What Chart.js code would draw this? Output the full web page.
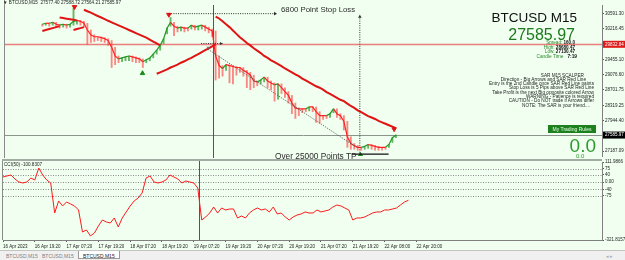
<!DOCTYPE html>
<html>
<head>
<meta charset="utf-8">
<title>BTCUSD M15</title>
<script src="https://cdn.jsdelivr.net/npm/chart.js@4.4.1/dist/chart.umd.min.js"></script>
<style>
  html, body { margin: 0; padding: 0; }
  body { width: 625px; height: 260px; overflow: hidden; position: relative; background: #f0fff0; font-family: "Liberation Sans", Arial, sans-serif; }
  .pane { position: absolute; left: 0; width: 625px; }
  #mainPane { top: 0; height: 161px; }
  #cciPane { top: 155px; height: 95px; }
  .sep { position: absolute; left: 2px; top: 159px; width: 600px; height: 2px; background: #a3aca3; }
  .t { position: absolute; white-space: nowrap; line-height: 1; }
  .rules { position: absolute; right: 31px; top: 73.5px; text-align: right; font-size: 4.7px; line-height: 4.3px; color: #1e1e1e; white-space: nowrap; }
  .btn { position: absolute; left: 548px; top: 125px; width: 48px; height: 8px; background: #1d7f1d; color: #eaffea; font-size: 5px; line-height: 8px; text-align: center; }
  #tabs { position: absolute; left: 0; top: 250px; width: 625px; height: 10px; background: #f0f0f0; border-top: 1px solid #c4c4c4; box-sizing: border-box; }
  .tab { position: absolute; top: 2px; font-size: 5px; color: #808080; }
  .tab.sel { top: 0; height: 8px; padding: 1.5px 4px 0 4px; box-sizing: border-box; background: #fff; border: 1px solid #9a9a9a; border-top: none; color: #222; }
</style>
</head>
<body>
<div class="pane" id="mainPane"><canvas id="mainChart"></canvas></div>
<div class="pane" id="cciPane"><canvas id="cciChart"></canvas></div>
<div class="sep"></div>

<div class="t" style="left:3px;top:1px;font-size:4.6px;color:#222">▼ BTCUSD,M15&nbsp; 27577.40 27588.72 27564.21 27585.97</div>
<div class="t" style="left:281px;top:5.5px;font-size:7.8px;color:#2b2b2b">6800 Point Stop Loss</div>
<div class="t" style="right:48px;top:11px;font-size:13.5px;color:#111">BTCUSD M15</div>
<div class="t" style="right:50px;top:26.5px;font-size:16px;color:#1c7a1c">27585.97</div>
<div class="t" style="right:50px;top:40.5px;font-size:4.6px;color:#2a8a2a">Spread: <b style="color:#111">160.0</b></div>
<div class="t" style="right:50px;top:45.5px;font-size:4.6px;color:#2a8a2a">High: <b style="color:#111">28680.47</b></div>
<div class="t" style="right:50px;top:50px;font-size:4.6px;color:#2a8a2a">Low: <b style="color:#111">27130.47</b></div>
<div class="t" style="right:48px;top:55px;font-size:4.8px;color:#2a8a2a">Candle Time&nbsp;&nbsp; <b style="color:#111">7:19</b></div>
<div class="rules">
  <div style="margin-right:10px">SAR M15 SCALPER</div>
  <div style="margin-right:8px">Direction - Big Arrows and SAR Red Line</div>
  <div>Entry is the 2nd Candle once SAR Red Line paints</div>
  <div>Stop Loss is 5 Pips above SAR Red Line</div>
  <div>Take Profit is the next Big opposite colored Arrow</div>
  <div>WARNING - Patience is required</div>
  <div>CAUTION - Do NOT trade if Arrows differ</div>
  <div style="margin-right:4px">NOTE: The SAR is your friend....</div>
</div>
<div class="btn">My Trading Rules</div>
<div class="t" style="right:29px;top:136px;font-size:19px;color:#2e9c2e">0.0</div>
<div class="t" style="left:576px;top:153px;font-size:6px;color:#2e9c2e">0.0</div>
<div class="t" style="left:275px;top:151.5px;font-size:8.3px;color:#2b2b2b">Over 25000 Points TP</div>
<div class="t" style="left:4px;top:163px;font-size:4.6px;color:#222">CCI(50) -100.8307</div>

<div id="tabs">
  <span class="tab" style="left:6px">BTCUSD,M15</span>
  <span class="tab" style="left:42px">BTCUSD,M15</span>
  <span class="tab sel" style="left:78px">BTCUSD,M15</span>
  <span class="tab" style="left:606px;color:#aaa">◂ ▸</span>
</div>

<script>
// time axis labels, one every 48 bars (8 samples)
const timeLabels = ['16 Apr 2023', '16 Apr 19:20', '17 Apr 07:20', '17 Apr 19:20', '18 Apr 07:20',
  '18 Apr 19:20', '19 Apr 07:20', '19 Apr 19:20', '20 Apr 07:20', '20 Apr 19:20',
  '21 Apr 07:20', '21 Apr 19:20', '22 Apr 08:00', '22 Apr 20:00'];
const priceTicks = [30591.30, 30216.45, 29455.10, 29076.60, 28701.75, 28319.25, 27944.40, 27187.09];

// closes sampled every 6 bars (1.5 h)
const closes = [
  30329, 30353, 30353, 30377, 30329, 30306, 30329, 30306, 30329, 30401,
  30425, 30401, 30353, 30187, 30068, 30020, 30020, 29996, 29972, 29925,
  29758, 29544, 29472, 29496, 29520, 29544, 29520, 29496, 29472, 29401,
  29448, 29496, 29591, 29687, 29806, 29972, 30234, 30377, 30282, 30234,
  30258, 30234, 30234, 30306, 30258, 30282, 30306, 30258, 30210, 30163,
  29544, 29306, 29234, 29329, 29306, 29282, 29258, 29258, 29187, 29139,
  29068, 28925, 28901, 28948, 29020, 28925, 28877, 28829, 28853, 28758,
  28663, 28567, 28377, 28258, 28234, 28234, 28234, 28282, 28282, 28163,
  28067, 28067, 28067, 28115, 28234, 28115, 28067, 27925, 27544, 27377,
  27329, 27282, 27282, 27306, 27353, 27329, 27306, 27282, 27282, 27282,
  27353, 27520, 27585.97
];
const lows = [
  30282, 30306, 30282, 30306, 30258, 30234, 30258, 30234, 30258, 30306,
  30329, 30306, 30258, 29829, 29877, 29901, 29925, 29901, 29877, 29806,
  29258, 29329, 29377, 29401, 29425, 29425, 29401, 29377, 29377, 29258,
  29377, 29425, 29496, 29591, 29687, 29853, 30091, 30282, 30044, 30139,
  30163, 30139, 30163, 30210, 30187, 30187, 30210, 30163, 30115, 30020,
  28948, 28996, 29044, 29187, 28877, 28853, 29068, 29139, 29044, 28758,
  28710, 28758, 28806, 28853, 28901, 28758, 28710, 28425, 28472, 28615,
  28520, 28377, 28115, 27996, 28067, 28139, 28163, 28186, 28163, 27901,
  27877, 27972, 27996, 28020, 28139, 28020, 27972, 27710, 27282, 27234,
  27234, 27210, 27210, 27234, 27258, 27234, 27210, 27210, 27210, 27234,
  27282, 27401, 27520
];
const spikeIdx = [9, 37];
const spikeHigh = [30734, 30496];

// SAR red line pieces: first sample index and values
const sarStart = [0, 5, 9, 12, 33, 50];
const sar1 = [30163, 30187, 30210, 30234, 30258, 30282];
const sar2 = [30496, 30482, 30467, 30453, 30439, 30425];
const sar3 = [30187, 30210, 30234, 30258];
const sar4 = [30687, 30651, 30615, 30575, 30534, 30496, 30456, 30415, 30377, 30339,
  30301, 30263, 30225, 30187, 30149, 30110, 30072, 30034, 29996, 29948, 29901, 29853, 29806];
const sar5 = [29103, 29139, 29175, 29210, 29258, 29294, 29329, 29377, 29413, 29460,
  29496, 29544, 29591, 29639, 29687, 29734, 29782, 29829];
const sar6 = [30520, 30472, 30401, 30329, 30258, 30175, 30091, 30008, 29937, 29865,
  29806, 29734, 29675, 29615, 29544, 29496, 29437, 29389, 29341, 29294,
  29234, 29187, 29139, 29091, 29044, 28984, 28937, 28889, 28841, 28794,
  28758, 28710, 28651, 28603, 28556, 28508, 28460, 28425, 28365, 28306,
  28258, 28198, 28151, 28103, 28056, 28020, 27984, 27937, 27901, 27865,
  27829, 27794, 27758];

const sellIdx = [9.3, 36.5, 101.5];
const sellPrice = [30758, 30567, 27734];
const buyIdx = [28.9, 91.8];
const buyPrice = [29115, 27091];

// CCI(50)
const cci = [
  28.6, 34.2, 39.7, 17.5, 0.8, -4.8, 0.8, 23.0, 11.9, 78.6,
  39.7, 11.9, -4.8, -171.6, -104.8, -132.6, -110.4, -121.5, -132.6, -154.9,
  -277.2, -266.1, -299.4, -282.8, -243.9, -210.5, -221.6, -227.2, -199.4, -249.4,
  -199.4, -166.0, -132.6, -104.8, -88.2, -60.4, 23.0, 34.2, 0.8, -4.8,
  0.8, 11.9, 39.7, 28.6, 17.5, -4.8, 6.4, 0.8, -4.8, -32.6,
  -210.5, -193.8, -171.6, -138.2, -171.6, -143.8, -154.9, -149.3, -149.3, -199.4,
  -188.2, -199.4, -171.6, -154.9, -143.8, -154.9, -149.3, -166.0, -138.2, -177.1,
  -171.6, -193.8, -210.5, -193.8, -182.7, -177.1, -166.0, -171.6, -171.6, -154.9,
  -166.0, -160.5, -154.9, -138.2, -127.1, -132.6, -143.8, -154.9, -210.5, -199.4,
  -199.4, -193.8, -182.7, -171.6, -166.0, -166.0, -154.9, -154.9, -149.3, -143.8,
  -127.1, -110.4, -100.8307
];
const cciMax = 111.9866, cciMin = -321.8157;
const cciLevels = [75, 40, 0, -40, -75];

// drawn objects, in sample index / price units
const redLevel = 29832.84;
const lastPrice = 27585.97;
const sessionLine = 49.3;
const stopLoss = { from: 36.5, to: 67.7, price: 30591.3 };
const tpArrow = { x: 91.6, from: 27091, to: 30567 };
const trend = { x0: 47.8, p0: 29710, x1: 90.6, p1: 27282 };
const tpBase = { from: 89.3, to: 99.9, price: 27115 };
const shortDots = { from: 45.8, to: 52, price: 29853 };

const xMax = 150.7;
const upColor = '#1f9a1f', downColor = '#ff2222';
const tickFont = { family: '"Liberation Sans", Arial, sans-serif', size: 4.5 };

function seg(ctx, a, b, dash, color, w) {
  ctx.save();
  ctx.setLineDash(dash || []);
  ctx.strokeStyle = color;
  ctx.lineWidth = w || 1;
  ctx.beginPath();
  ctx.moveTo(a.x, a.y);
  ctx.lineTo(b.x, b.y);
  ctx.stroke();
  ctx.restore();
}
function head(ctx, tip, ang, color, s) {
  ctx.save();
  ctx.fillStyle = color;
  ctx.translate(tip.x, tip.y);
  ctx.rotate(ang);
  ctx.beginPath();
  ctx.moveTo(0, 0);
  ctx.lineTo(-s, -s * 0.6);
  ctx.lineTo(-s, s * 0.6);
  ctx.closePath();
  ctx.fill();
  ctx.restore();
}
const pt = (chart, i, p) => ({ x: chart.scales.x.getPixelForValue(i), y: chart.scales.y.getPixelForValue(p) });

const mainMarks = {
  id: 'mainMarks',
  beforeDatasetsDraw(chart) {
    const { ctx, chartArea: a } = chart;
    const yr = Math.round(chart.scales.y.getPixelForValue(redLevel)) + 0.5;
    seg(ctx, { x: a.left, y: yr }, { x: a.right, y: yr }, null, 'rgba(232,112,112,0.9)', 1.6);
    const yb = Math.round(chart.scales.y.getPixelForValue(lastPrice)) + 0.5;
    seg(ctx, { x: a.left, y: yb }, { x: a.right, y: yb }, null, '#8b948b', 1);
    const vx = Math.round(chart.scales.x.getPixelForValue(sessionLine)) + 0.5;
    seg(ctx, { x: vx, y: a.top }, { x: vx, y: a.bottom + 2 }, null, '#555', 1);
    seg(ctx, { x: a.left - 0.5, y: 0 }, { x: a.left - 0.5, y: a.bottom + 2 }, null, '#8a8a8a', 1);
  },
  afterDatasetsDraw(chart) {
    const { ctx } = chart;
    const dot = [1, 1.3], ink = '#303030';
    let a = pt(chart, stopLoss.from, stopLoss.price), b = pt(chart, stopLoss.to, stopLoss.price);
    seg(ctx, a, b, dot, ink, 1);
    head(ctx, b, 0, ink, 3);
    a = pt(chart, tpArrow.x, tpArrow.from); b = pt(chart, tpArrow.x, tpArrow.to);
    seg(ctx, a, b, dot, ink, 1);
    head(ctx, b, -Math.PI / 2, ink, 3);
    a = pt(chart, trend.x0, trend.p0); b = pt(chart, trend.x1, trend.p1);
    seg(ctx, a, b, dot, '#555', 1);
    head(ctx, a, Math.PI / 2, '#777', 2.5);
    a = pt(chart, tpBase.from, tpBase.price); b = pt(chart, tpBase.to, tpBase.price);
    seg(ctx, a, b, null, '#111', 1.2);
    a = pt(chart, shortDots.from, shortDots.price); b = pt(chart, shortDots.to, shortDots.price);
    seg(ctx, a, b, dot, ink, 1);
    head(ctx, b, 0, ink, 2.5);
  },
  afterDraw(chart) {
    const { ctx, chartArea: a } = chart;
    [[redLevel, '#e01818'], [lastPrice, '#000']].forEach(([p, bg]) => {
      const y = chart.scales.y.getPixelForValue(p);
      ctx.save();
      ctx.fillStyle = bg;
      ctx.fillRect(a.right + 1, y - 3.5, chart.width - a.right - 1, 7);
      ctx.fillStyle = '#fff';
      ctx.font = '4.5px "Liberation Sans", Arial, sans-serif';
      ctx.textBaseline = 'middle';
      ctx.fillText(p.toFixed(2), a.right + 3, y);
      ctx.restore();
    });
  }
};

const cciMarks = {
  id: 'cciMarks',
  beforeDatasetsDraw(chart) {
    const { ctx, chartArea: a } = chart;
    cciLevels.forEach(v => {
      const y = Math.round(chart.scales.y.getPixelForValue(v)) + 0.5;
      seg(ctx, { x: a.left, y }, { x: a.right, y }, [1, 1.5], '#8a8a8a', 1);
    });
    const vx = Math.round(chart.scales.x.getPixelForValue(sessionLine)) + 0.5;
    seg(ctx, { x: vx, y: a.top - 2 }, { x: vx, y: a.bottom }, null, '#555', 1);
    seg(ctx, { x: a.left - 0.5, y: a.top - 2 }, { x: a.left - 0.5, y: a.bottom }, null, '#8a8a8a', 1);
  }
};

const wickData = closes.map((c, i) => {
  const open = i ? closes[i - 1] : c;
  let hi = Math.max(open, c);
  const k = spikeIdx.indexOf(i);
  if (k >= 0) hi = spikeHigh[k];
  return { x: i, y: [lows[i], hi] };
});
const wickColors = closes.map((c, i) => (i && c > closes[i - 1]) ? 'rgba(40,150,40,0.7)' : 'rgba(255,70,70,0.65)');

const sarSets = [sar1, sar2, sar3, sar4, sar5, sar6].map((vals, k) => ({
  type: 'line',
  data: vals.map((v, j) => ({ x: sarStart[k] + j, y: v })),
  borderColor: '#e01414',
  borderWidth: 2,
  pointRadius: 0,
  order: 1
}));

new Chart(document.getElementById('mainChart'), {
  type: 'line',
  data: {
    datasets: [
      {
        type: 'bar',
        data: wickData,
        backgroundColor: wickColors,
        barThickness: 1.2,
        order: 4
      },
      {
        type: 'line',
        data: closes.map((c, i) => ({ x: i, y: c })),
        borderColor: downColor,
        borderWidth: 1.2,
        pointRadius: 0,
        segment: { borderColor: c => c.p1.parsed.y > c.p0.parsed.y ? upColor : downColor },
        order: 3
      },
      ...sarSets,
      {
        type: 'line',
        data: sellIdx.map((x, k) => ({ x, y: sellPrice[k] })),
        showLine: false,
        pointStyle: 'triangle',
        rotation: 180,
        pointRadius: 2.6,
        backgroundColor: '#e01414',
        borderColor: '#e01414',
        order: 0
      },
      {
        type: 'line',
        data: buyIdx.map((x, k) => ({ x, y: buyPrice[k] })),
        showLine: false,
        pointStyle: 'triangle',
        pointRadius: 2.6,
        backgroundColor: '#1e8c1e',
        borderColor: '#1e8c1e',
        order: 0
      }
    ]
  },
  options: {
    responsive: true,
    maintainAspectRatio: false,
    animation: false,
    events: [],
    layout: { padding: { left: 3, top: 2, right: 0, bottom: 2 } },
    plugins: { legend: { display: false }, tooltip: { enabled: false } },
    scales: {
      x: { type: 'linear', min: 0, max: xMax, display: false },
      y: {
        position: 'right',
        min: 27067.42,
        max: 30805.59,
        afterFit: s => { s.width = 23; },
        afterBuildTicks: s => { s.ticks = priceTicks.map(v => ({ value: v })); },
        ticks: { autoSkip: false, font: tickFont, color: '#222', padding: 1, callback: v => Number(v).toFixed(2) },
        grid: { drawOnChartArea: false, tickLength: 2, color: '#555' },
        border: { color: '#808080' }
      }
    }
  },
  plugins: [mainMarks]
});

new Chart(document.getElementById('cciChart'), {
  type: 'line',
  data: {
    datasets: [{
      data: cci.map((v, i) => ({ x: i, y: v })),
      borderColor: '#ff1a1a',
      borderWidth: 1,
      pointRadius: 0
    }]
  },
  options: {
    responsive: true,
    maintainAspectRatio: false,
    animation: false,
    events: [],
    layout: { padding: { left: 3, top: 7, right: 0, bottom: 0 } },
    plugins: { legend: { display: false }, tooltip: { enabled: false } },
    scales: {
      x: {
        type: 'linear',
        min: 0,
        max: xMax,
        afterFit: s => { s.height = 10; },
        afterBuildTicks: s => { s.ticks = timeLabels.map((_, k) => ({ value: k * 8 })); },
        ticks: { autoSkip: false, maxRotation: 0, align: 'start', font: tickFont, color: '#222', padding: 2,
          callback: (v, k) => timeLabels[k] },
        grid: { drawOnChartArea: false, tickLength: 2, color: '#555' },
        border: { color: '#808080' }
      },
      y: {
        position: 'right',
        min: cciMin,
        max: cciMax,
        afterFit: s => { s.width = 23; },
        afterBuildTicks: s => { s.ticks = [cciMax, ...cciLevels, cciMin].map(v => ({ value: v })); },
        ticks: { autoSkip: false, font: tickFont, color: '#222', padding: 1,
          callback: v => v === cciMax ? '111.9866' : v === cciMin ? '-321.8157' : v === 0 ? '0.00' : String(v) },
        grid: { drawOnChartArea: false, tickLength: 2, color: '#555' },
        border: { color: '#808080' }
      }
    }
  },
  plugins: [cciMarks]
});
</script>
</body>
</html>
